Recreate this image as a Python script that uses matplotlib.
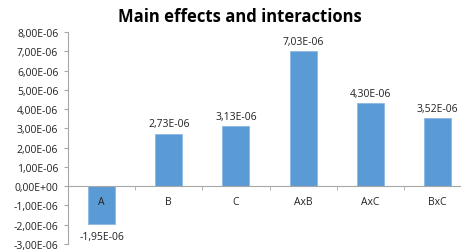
import matplotlib.pyplot as plt
from matplotlib.ticker import FuncFormatter, MultipleLocator

categories = ["A", "B", "C", "AxB", "AxC", "BxC"]
effects = [-1.95e-06, 2.73e-06, 3.13e-06, 7.03e-06, 4.30e-06, 3.52e-06]


def sci_comma(v, pos=None):
    return "{:.2E}".format(v).replace(".", ",")


plt.rcParams['font.family'] = ['Open Sans', 'DejaVu Sans']
fig = plt.figure(figsize=(4.61, 2.53), dpi=100)
ax = fig.add_axes([68 / 461, 1 - 245 / 253, 403 / 461, 212 / 253])

x = list(range(len(categories)))
bars = ax.bar(x, effects, width=0.4, color="#5B9BD5", edgecolor="#8DB8E2", linewidth=0.6, zorder=1)
ax.xaxis.set_zorder(3)

for xi, v in zip(x, effects):
    if v >= 0:
        ax.annotate(sci_comma(v), (xi, v), xytext=(0, 3), textcoords="offset points",
                    ha="center", va="bottom", fontsize=7.5, color="#222222")
    else:
        ax.annotate(sci_comma(v), (xi, v), xytext=(0, -5), textcoords="offset points",
                    ha="center", va="top", fontsize=7.5, color="#222222")

ax.set_xlim(-0.5, len(categories) - 0.5)
ax.set_ylim(-3e-06, 8e-06)
ax.yaxis.set_major_locator(MultipleLocator(1e-06))
ax.yaxis.set_major_formatter(FuncFormatter(sci_comma))
ax.yaxis.get_offset_text().set_visible(False)

ax.set_xticks(x)
ax.set_xticklabels(categories)
ax.set_xticks([i - 0.5 for i in range(len(categories) + 1)], minor=True)
ax.tick_params(axis="x", which="major", length=0, pad=7, labelsize=7.5, colors="#222222")
ax.tick_params(axis="x", which="minor", length=3, color="#A6A6A6", direction="out")
ax.tick_params(axis="y", length=3, color="#A6A6A6", labelsize=7.5, labelcolor="#222222", pad=4)

ax.spines["bottom"].set_position(("data", 0))
ax.spines["bottom"].set_color("#A6A6A6")
ax.spines["bottom"].set_zorder(3)
ax.spines["left"].set_color("#A6A6A6")
ax.spines["top"].set_visible(False)
ax.spines["right"].set_visible(False)

fig.text(240 / 461, 1 - 17 / 253, "Main effects and interactions", ha="center", va="center",
         fontsize=12, fontweight="bold")

plt.savefig("out.png", dpi=100)
